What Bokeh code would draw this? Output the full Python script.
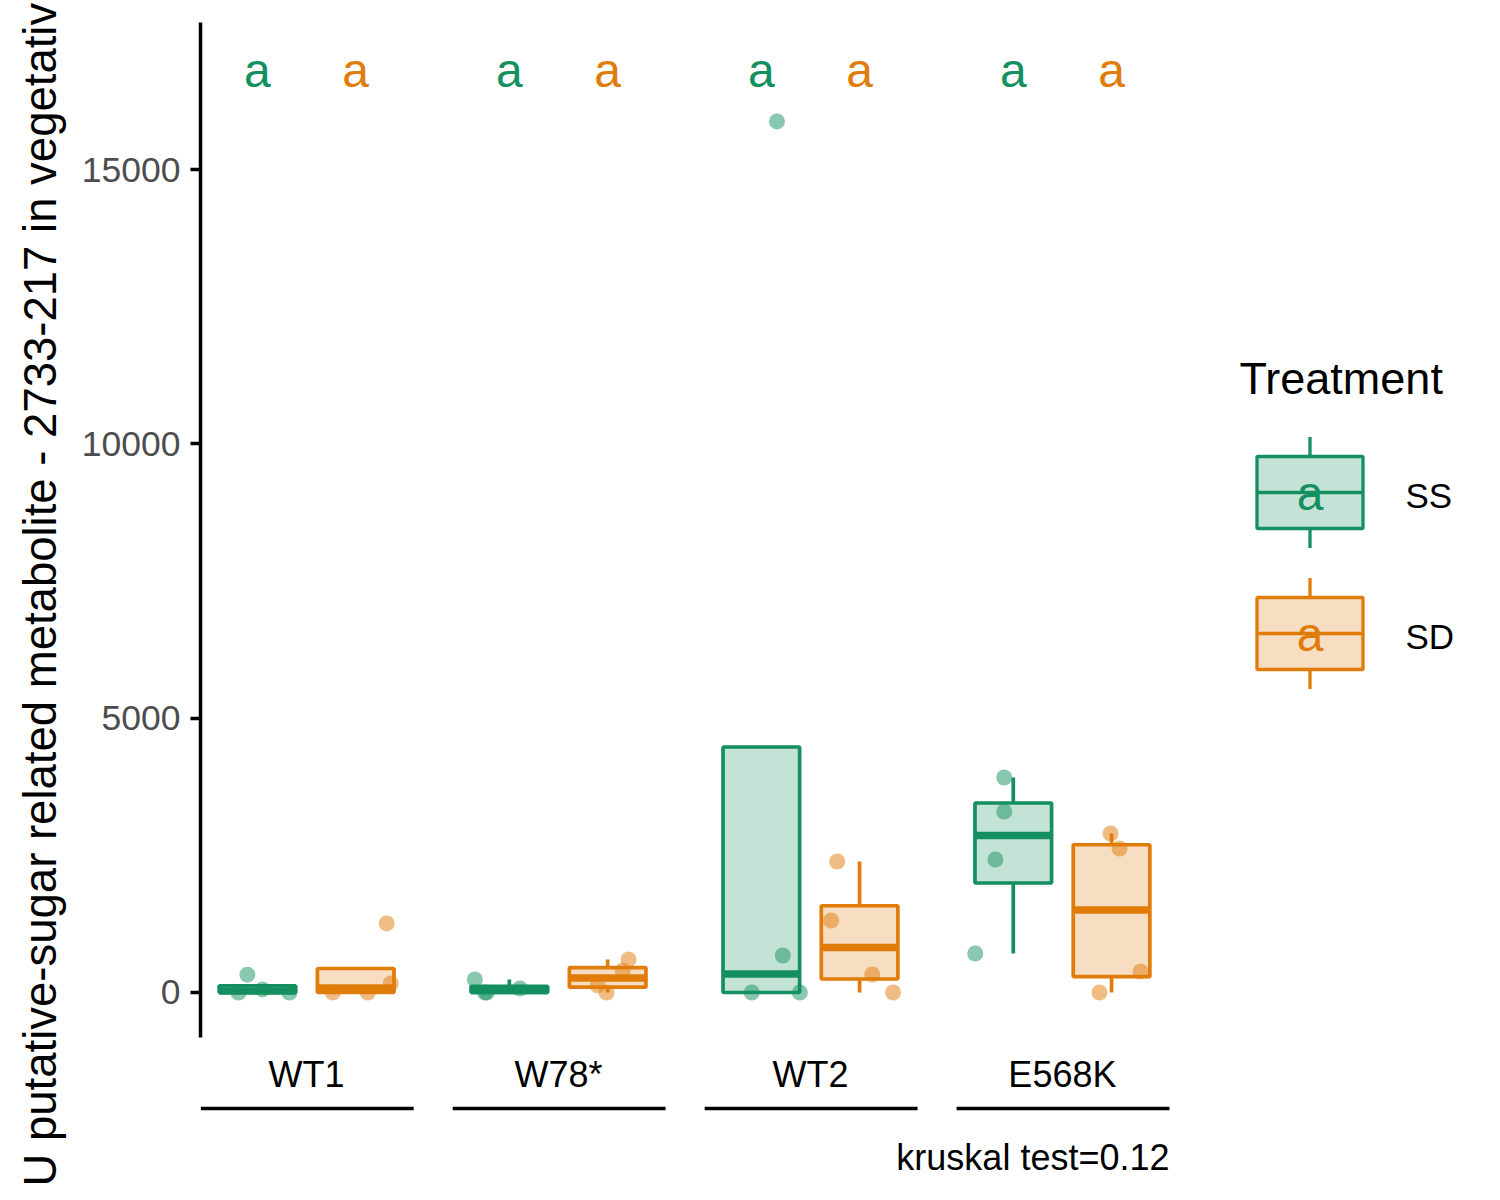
import numpy as np
from bokeh.plotting import figure
from bokeh.models import Range1d, FixedTicker, ColumnDataSource
from bokeh.layouts import row
from bokeh.embed import file_html
from bokeh.resources import INLINE
from bokeh.core.properties import value

# ---------------- data ----------------
GENOTYPES = ["WT1", "W78*", "WT2", "E568K"]
TREATMENTS = ["SS", "SD"]

SS_VALUES = {
    "WT1": [0, 0, 55, 325],
    "W78*": [237, 0, 73, 0],
    "WT2": [0, 0, 674, 15877],
    "E568K": [3919, 3299, 2424, 711],
}
SD_VALUES = {
    "WT1": [0, 0, 164, 1258],
    "W78*": [602, 401, 128, 0],
    "WT2": [2388, 1312, 328, 0],
    "E568K": [2898, 2625, 383, 0],
}
# horizontal jitter of each point (category units)
SS_JITTER = {
    "WT1": [-0.075, 0.127, 0.020, -0.040],
    "W78*": [-0.137, -0.097, 0.042, -0.090],
    "WT2": [-0.038, 0.153, 0.085, 0.062],
    "E568K": [-0.036, -0.036, -0.071, -0.151],
}
SD_JITTER = {
    "WT1": [-0.091, 0.048, 0.139, 0.123],
    "W78*": [0.083, 0.060, -0.040, -0.004],
    "WT2": [-0.089, -0.113, 0.050, 0.133],
    "E568K": [-0.004, 0.032, 0.115, -0.048],
}
SS_LETTERS = ["a", "a", "a", "a"]
SD_LETTERS = ["a", "a", "a", "a"]
LETTER_Y = 16800
Y_TICKS = [0, 5000, 10000, 15000]
Y_LABEL = "U putative-sugar related metabolite - 2733-217 in vegetativ"
CAPTION = "kruskal test=0.12"
LEGEND_TITLE = "Treatment"

VALUES = {"SS": SS_VALUES, "SD": SD_VALUES}
JITTER = {"SS": SS_JITTER, "SD": SD_JITTER}
LETTERS = {"SS": SS_LETTERS, "SD": SD_LETTERS}
COLORS = {"SS": "#148F5F", "SD": "#E07C0A"}
DODGE = {"SS": -0.195, "SD": 0.195}
HALF_W = 0.152
FONT = "Liberation Sans"
BOX_LW = 3.7

# layout (pixels)
TOTAL_H = 1192
LABEL_W = 72
MAIN_LEFT = 128
FRAME_W = 970
LEGEND_W = 322

# value ranges
Y_LO, Y_HI = -3646, 18082          # whole canvas height
AXIS_LO, AXIS_HI = -820, 17681     # drawn y-axis extent
X_LO, X_HI = 0.579, 4.429
LABEL_Y = -1504
BRACKET_Y = -2114
CAPTION_Y = -3017


def box_stats(v):
    v = np.asarray(v, float)
    q1, med, q3 = np.percentile(v, [25, 50, 75])
    iqr = q3 - q1
    inl = v[(v >= q1 - 1.5 * iqr) & (v <= q3 + 1.5 * iqr)]
    lo = min(q1, inl.min())
    hi = max(q3, inl.max())
    return q1, med, q3, lo, hi


def blank(fig):
    fig.outline_line_color = None
    fig.grid.visible = False
    fig.background_fill_color = "white"
    fig.border_fill_color = "white"


# ---------------- y-axis title ----------------
lf = figure(width=LABEL_W, height=TOTAL_H, x_range=Range1d(0, LABEL_W),
            y_range=Range1d(0, TOTAL_H), output_backend="svg",
            toolbar_location=None, x_axis_location=None, y_axis_location=None,
            min_border=0)
blank(lf)
lf.text(x=[39.5], y=[6], text=[Y_LABEL], angle=np.pi / 2,
        text_font=value(FONT), text_font_size="45.5px", text_color="black",
        text_align="left", text_baseline="middle")

# ---------------- main plot ----------------
p = figure(width=MAIN_LEFT + FRAME_W, height=TOTAL_H,
           x_range=Range1d(X_LO, X_HI), y_range=Range1d(Y_LO, Y_HI),
           output_backend="svg", toolbar_location=None, x_axis_location=None,
           min_border_left=MAIN_LEFT, min_border_right=0,
           min_border_top=0, min_border_bottom=0)
blank(p)

for t in TREATMENTS:
    col = COLORS[t]
    d = dict(cx=[], left=[], right=[], q1=[], med=[], q3=[], lo=[], hi=[])
    px, py = [], []
    for gi, g in enumerate(GENOTYPES):
        cx = gi + 1 + DODGE[t]
        q1, med, q3, lo, hi = box_stats(VALUES[t][g])
        d["cx"].append(cx); d["left"].append(cx - HALF_W); d["right"].append(cx + HALF_W)
        d["q1"].append(q1); d["med"].append(med); d["q3"].append(q3)
        d["lo"].append(lo); d["hi"].append(hi)
        for v, j in zip(VALUES[t][g], JITTER[t][g]):
            px.append(cx + j); py.append(v)
    src = ColumnDataSource(d)
    p.segment(x0="cx", y0="q3", x1="cx", y1="hi", source=src, line_color=col, line_width=BOX_LW)
    p.segment(x0="cx", y0="q1", x1="cx", y1="lo", source=src, line_color=col, line_width=BOX_LW)
    p.quad(left="left", right="right", bottom="q1", top="q3", source=src,
           fill_color=col, fill_alpha=0.25, line_color=col, line_width=BOX_LW)
    p.segment(x0="left", y0="med", x1="right", y1="med", source=src,
              line_color=col, line_width=2 * BOX_LW, line_cap="butt")
    p.scatter(x=px, y=py, size=16, marker="circle", fill_color=col,
              fill_alpha=0.5, line_color=None)
    p.text(x=d["cx"], y=[LETTER_Y] * len(GENOTYPES), text=LETTERS[t],
           text_color=col, text_font=value(FONT), text_font_size="48px",
           text_align="center", text_baseline="middle")

# y axis
p.yaxis.bounds = (AXIS_LO, AXIS_HI)
p.yaxis.ticker = FixedTicker(ticks=Y_TICKS)
p.yaxis.major_label_overrides = {t: str(t) for t in Y_TICKS}
p.yaxis.axis_line_width = 3.5
p.yaxis.axis_line_color = "black"
p.yaxis.major_tick_line_width = 3.5
p.yaxis.major_tick_line_color = "black"
p.yaxis.major_tick_out = 10
p.yaxis.major_tick_in = 0
p.yaxis.minor_tick_line_color = None
p.yaxis.major_label_text_font = FONT
p.yaxis.major_label_text_font_size = "35.5px"
p.yaxis.major_label_text_color = "#4D4D4D"
p.yaxis.major_label_standoff = 10

# category labels, brackets and caption
gpos = np.arange(1, len(GENOTYPES) + 1)
p.text(x=gpos, y=[LABEL_Y] * len(GENOTYPES), text=GENOTYPES,
       text_font=value(FONT), text_font_size="36px", text_color="black",
       text_align="center", text_baseline="middle")
p.segment(x0=gpos - 0.42, y0=[BRACKET_Y] * len(GENOTYPES),
          x1=gpos + 0.425, y1=[BRACKET_Y] * len(GENOTYPES),
          line_color="black", line_width=3.5)
p.text(x=[X_HI - 0.004], y=[CAPTION_Y], text=[CAPTION], text_font=value(FONT),
       text_font_size="36px", text_color="black", text_align="right",
       text_baseline="middle")

# ---------------- legend ----------------
lg = figure(width=LEGEND_W, height=TOTAL_H, x_range=Range1d(0, LEGEND_W),
            y_range=Range1d(TOTAL_H, 0), output_backend="svg",
            toolbar_location=None, x_axis_location=None, y_axis_location=None,
            min_border=0)
blank(lg)

KEY_X = 139.5
KEY_Y0 = 492
KEY_STEP = 141
KEY_HW = 53
KEY_HH = 36
WHISK_HH = 55.5

lg.text(x=[69], y=[378], text=[LEGEND_TITLE], text_font=value(FONT),
        text_font_size="45px", text_color="black", text_align="left",
        text_baseline="middle")
for i, t in enumerate(TREATMENTS):
    col = COLORS[t]
    cy = KEY_Y0 + i * KEY_STEP
    lg.segment(x0=[KEY_X], y0=[cy - WHISK_HH], x1=[KEY_X], y1=[cy + WHISK_HH],
               line_color=col, line_width=3.3)
    lg.quad(left=[KEY_X - KEY_HW], right=[KEY_X + KEY_HW], top=[cy - KEY_HH],
            bottom=[cy + KEY_HH], fill_color="white", line_color=None)
    lg.quad(left=[KEY_X - KEY_HW], right=[KEY_X + KEY_HW], top=[cy - KEY_HH],
            bottom=[cy + KEY_HH], fill_color=col, fill_alpha=0.25,
            line_color=col, line_width=3.3)
    lg.segment(x0=[KEY_X - KEY_HW], y0=[cy], x1=[KEY_X + KEY_HW], y1=[cy],
               line_color=col, line_width=3.3)
    lg.text(x=[KEY_X], y=[cy + 1], text=[LETTERS[t][0]], text_color=col,
            text_font=value(FONT), text_font_size="48px", text_align="center",
            text_baseline="middle")
    lg.text(x=[235], y=[cy + 3], text=[t], text_color="black",
            text_font=value(FONT), text_font_size="35px", text_align="left",
            text_baseline="middle")

layout = row(lf, p, lg)
open("out.html", "w").write(file_html(layout, INLINE))
